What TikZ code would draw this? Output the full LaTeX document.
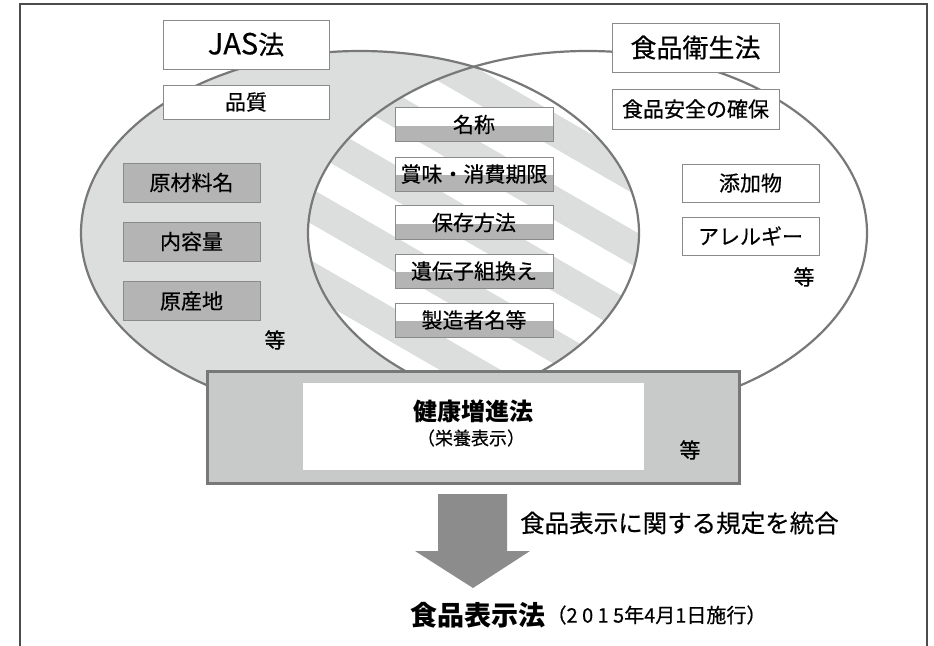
\documentclass[tikz,border=0pt]{standalone}
\usepackage{fontspec}
\setmainfont{Noto Sans CJK JP}[UprightFeatures={FakeBold=0.45}]
\definecolor{lgray}{HTML}{DCDDDD}
\definecolor{mgray}{HTML}{B4B4B4}
\definecolor{edge}{HTML}{787878}
\definecolor{boxedge}{HTML}{8A8A8A}
\definecolor{kgray}{HTML}{C8C9C9}
\definecolor{agray}{HTML}{8C8C8C}
\tikzset{
  whitebox/.style={draw=boxedge, line width=1pt, fill=white, inner sep=0pt, font=\fontsize{21}{24}\selectfont},
  titlebox/.style={whitebox, font=\fontsize{26}{28}\selectfont},
  graybox/.style={draw=boxedge, line width=1pt, fill=mgray, inner sep=0pt, minimum width=137pt, minimum height=39pt, font=\fontsize{21}{24}\selectfont},
  splitbox/.style={draw=boxedge, line width=1pt, fill=white, inner sep=0pt, minimum width=158pt, minimum height=34pt, font=\fontsize{21}{24}\selectfont,
    path picture={\fill[mgray] ([yshift=-1pt]path picture bounding box.west) rectangle (path picture bounding box.south east);}},
  plain/.style={inner sep=0pt, font=\fontsize{21}{24}\selectfont},
}
\begin{document}
\begin{tikzpicture}[x=1pt,y=-1pt]
\useasboundingbox (0,0) rectangle (934,645);
\fill[white] (0,0) rectangle (934,645);
% frame
\draw[line width=1.3pt, draw=black!70] (20,650) -- (20,4) -- (927,4) -- (927,650);
% ellipses
\fill[lgray] (360,233) ellipse [x radius=279, y radius=182];
\fill[white] (587.5,233) ellipse [x radius=279.5, y radius=182];
\begin{scope}
  \clip (360,233) ellipse [x radius=279, y radius=182];
  \clip (587.5,233) ellipse [x radius=279.5, y radius=182];
  \foreach \k in {-6,...,6} {
    \draw[lgray, line width=30.5pt] (250,{98.8+72*\k}) -- (700,{358.5+72*\k});
  }
\end{scope}
\draw[edge, line width=2.2pt] (360,233) ellipse [x radius=279, y radius=182];
\draw[edge, line width=2.2pt] (587.5,233) ellipse [x radius=279.5, y radius=182];
% left law
\node[titlebox, minimum width=166pt, minimum height=49pt] (jas) at (246,44.5) {{\fontsize{29}{30}\selectfont JAS}法};
\node[whitebox, minimum width=166pt, minimum height=34pt] (hinshitsu) at (246,102) {品質};
\node[graybox] (genzai) at (191.5,182.5) {原材料名};
\node[graybox] (naiyo) at (191.5,241.5) {内容量};
\node[graybox] (gensan) at (191.5,301) {原産地};
\node[plain] (etcL) at (275,340) {等};
% right law
\node[titlebox, minimum width=167pt, minimum height=49pt] (eisei) at (695.5,47.5) {食品衛生法};
\node[whitebox, minimum width=167pt, minimum height=40pt] (anzen) at (695.5,109) {食品安全の確保};
\node[whitebox, minimum width=137pt, minimum height=38pt] (tenka) at (750.5,183) {添加物};
\node[whitebox, minimum width=137pt, minimum height=38pt] (allergy) at (750.5,236) {アレルギー};
\node[plain] (etcR) at (804,277) {等};
% common items
\node[splitbox] (meisho) at (474,124.5) {名称};
\node[splitbox] (shomi) at (474,174) {賞味・消費期限};
\node[splitbox] (hozon) at (474,222.5) {保存方法};
\node[splitbox] (idenshi) at (474,271) {遺伝子組換え};
\node[splitbox] (seizo) at (474,320) {製造者名等};
% health promotion law
\node[draw=edge, line width=3pt, fill=kgray, minimum width=532pt, minimum height=112pt, inner sep=0pt] (kenko) at (473,427) {};
\node[fill=white, minimum width=341pt, minimum height=87pt, inner sep=0pt] (kenkoin) at (473.5,426.5) {};
\node[inner sep=0pt, font=\fontsize{24}{26}\selectfont\bfseries] (kenkoT) at (473,411) {健康増進法};
\node[inner sep=0pt, font=\fontsize{18}{20}\selectfont] (eiyo) at (471,438) {（栄養表示）};
\node[plain] (etcK) at (690,450) {等};
% arrow
\fill[agray] (438,494) -- (507,494) -- (507,551) -- (530,551) -- (473,588) -- (415,551) -- (438,551) -- cycle;
\node[plain, anchor=west, font=\fontsize{24.5}{26}\selectfont] (togo) at (520,523) {食品表示に関する規定を統合};
\node[inner sep=0pt, anchor=west, font=\fontsize{27}{29}\selectfont\bfseries] (hyoji) at (410,615) {食品表示法};
\node[inner sep=0pt, anchor=west, font=\fontsize{20}{22}\selectfont] (date) at ([xshift=1pt]hyoji.east) {（{\addfontfeature{LetterSpace=22}2015}年{\addfontfeature{LetterSpace=22}4}月{\addfontfeature{LetterSpace=22}1}日施行）};
\end{tikzpicture}
\end{document}
